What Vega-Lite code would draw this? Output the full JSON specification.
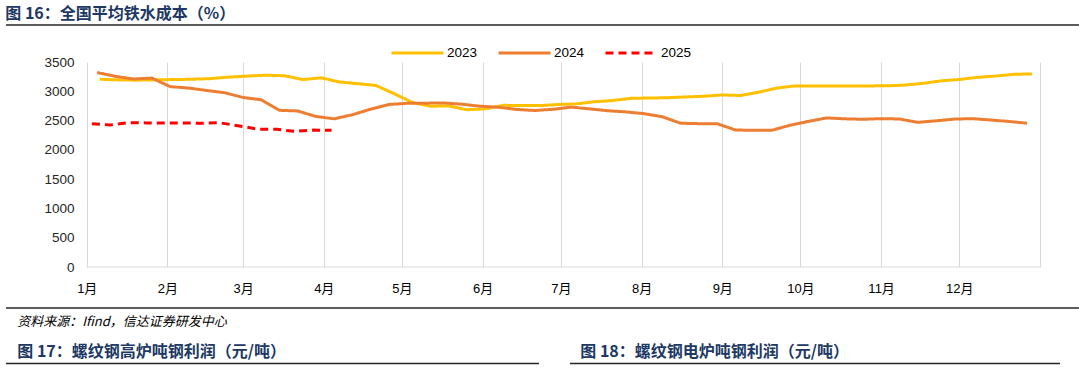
{
  "$schema": "https://vega.github.io/schema/vega-lite/v6.json",
  "padding": {"left": 5, "top": 6, "right": 0, "bottom": 0},
  "background": "#ffffff",
  "config": {
    "view": {"stroke": null},
    "font": "Liberation Sans"
  },
  "resolve": {"legend": {"color": "independent", "strokeDash": "independent"}},
  "datasets": {
    "cost": [
      {"series": "2023", "date": "2023-01-06", "value": 3205},
      {"series": "2023", "date": "2023-01-13", "value": 3195},
      {"series": "2023", "date": "2023-01-20", "value": 3190},
      {"series": "2023", "date": "2023-01-27", "value": 3195},
      {"series": "2023", "date": "2023-02-03", "value": 3200},
      {"series": "2023", "date": "2023-02-10", "value": 3205},
      {"series": "2023", "date": "2023-02-17", "value": 3215},
      {"series": "2023", "date": "2023-02-24", "value": 3240},
      {"series": "2023", "date": "2023-03-03", "value": 3260},
      {"series": "2023", "date": "2023-03-10", "value": 3275},
      {"series": "2023", "date": "2023-03-17", "value": 3265},
      {"series": "2023", "date": "2023-03-24", "value": 3200},
      {"series": "2023", "date": "2023-03-31", "value": 3230},
      {"series": "2023", "date": "2023-04-07", "value": 3160},
      {"series": "2023", "date": "2023-04-14", "value": 3130},
      {"series": "2023", "date": "2023-04-21", "value": 3100},
      {"series": "2023", "date": "2023-04-28", "value": 2960},
      {"series": "2023", "date": "2023-05-05", "value": 2810},
      {"series": "2023", "date": "2023-05-12", "value": 2745},
      {"series": "2023", "date": "2023-05-19", "value": 2750},
      {"series": "2023", "date": "2023-05-26", "value": 2685},
      {"series": "2023", "date": "2023-06-02", "value": 2700},
      {"series": "2023", "date": "2023-06-09", "value": 2760},
      {"series": "2023", "date": "2023-06-16", "value": 2758},
      {"series": "2023", "date": "2023-06-23", "value": 2755},
      {"series": "2023", "date": "2023-06-30", "value": 2775},
      {"series": "2023", "date": "2023-07-07", "value": 2785},
      {"series": "2023", "date": "2023-07-14", "value": 2822},
      {"series": "2023", "date": "2023-07-21", "value": 2842},
      {"series": "2023", "date": "2023-07-28", "value": 2880},
      {"series": "2023", "date": "2023-08-04", "value": 2885},
      {"series": "2023", "date": "2023-08-11", "value": 2890},
      {"series": "2023", "date": "2023-08-18", "value": 2903},
      {"series": "2023", "date": "2023-08-25", "value": 2915},
      {"series": "2023", "date": "2023-09-01", "value": 2938},
      {"series": "2023", "date": "2023-09-08", "value": 2927},
      {"series": "2023", "date": "2023-09-15", "value": 2985},
      {"series": "2023", "date": "2023-09-22", "value": 3055},
      {"series": "2023", "date": "2023-09-29", "value": 3092},
      {"series": "2023", "date": "2023-10-06", "value": 3092},
      {"series": "2023", "date": "2023-10-13", "value": 3092},
      {"series": "2023", "date": "2023-10-20", "value": 3092},
      {"series": "2023", "date": "2023-10-27", "value": 3092},
      {"series": "2023", "date": "2023-11-03", "value": 3093},
      {"series": "2023", "date": "2023-11-10", "value": 3105},
      {"series": "2023", "date": "2023-11-17", "value": 3135},
      {"series": "2023", "date": "2023-11-24", "value": 3178},
      {"series": "2023", "date": "2023-12-01", "value": 3202},
      {"series": "2023", "date": "2023-12-08", "value": 3238},
      {"series": "2023", "date": "2023-12-15", "value": 3260},
      {"series": "2023", "date": "2023-12-22", "value": 3290},
      {"series": "2023", "date": "2023-12-29", "value": 3297},
      {"series": "2024", "date": "2024-01-05", "value": 3320},
      {"series": "2024", "date": "2024-01-12", "value": 3255},
      {"series": "2024", "date": "2024-01-19", "value": 3210},
      {"series": "2024", "date": "2024-01-26", "value": 3225},
      {"series": "2024", "date": "2024-02-02", "value": 3080},
      {"series": "2024", "date": "2024-02-09", "value": 3055},
      {"series": "2024", "date": "2024-02-16", "value": 3015},
      {"series": "2024", "date": "2024-02-23", "value": 2975},
      {"series": "2024", "date": "2024-03-01", "value": 2895},
      {"series": "2024", "date": "2024-03-08", "value": 2855},
      {"series": "2024", "date": "2024-03-15", "value": 2675},
      {"series": "2024", "date": "2024-03-22", "value": 2664},
      {"series": "2024", "date": "2024-03-29", "value": 2570},
      {"series": "2024", "date": "2024-04-05", "value": 2530},
      {"series": "2024", "date": "2024-04-12", "value": 2600},
      {"series": "2024", "date": "2024-04-19", "value": 2695},
      {"series": "2024", "date": "2024-04-26", "value": 2775},
      {"series": "2024", "date": "2024-05-03", "value": 2795},
      {"series": "2024", "date": "2024-05-10", "value": 2797},
      {"series": "2024", "date": "2024-05-17", "value": 2801},
      {"series": "2024", "date": "2024-05-24", "value": 2780},
      {"series": "2024", "date": "2024-05-31", "value": 2745},
      {"series": "2024", "date": "2024-06-07", "value": 2728},
      {"series": "2024", "date": "2024-06-14", "value": 2690},
      {"series": "2024", "date": "2024-06-21", "value": 2672},
      {"series": "2024", "date": "2024-06-28", "value": 2692},
      {"series": "2024", "date": "2024-07-05", "value": 2730},
      {"series": "2024", "date": "2024-07-12", "value": 2700},
      {"series": "2024", "date": "2024-07-19", "value": 2668},
      {"series": "2024", "date": "2024-07-26", "value": 2648},
      {"series": "2024", "date": "2024-08-02", "value": 2618},
      {"series": "2024", "date": "2024-08-09", "value": 2565},
      {"series": "2024", "date": "2024-08-16", "value": 2455},
      {"series": "2024", "date": "2024-08-23", "value": 2447},
      {"series": "2024", "date": "2024-08-30", "value": 2447},
      {"series": "2024", "date": "2024-09-06", "value": 2340},
      {"series": "2024", "date": "2024-09-13", "value": 2333},
      {"series": "2024", "date": "2024-09-20", "value": 2333},
      {"series": "2024", "date": "2024-09-27", "value": 2420},
      {"series": "2024", "date": "2024-10-04", "value": 2485},
      {"series": "2024", "date": "2024-10-11", "value": 2545},
      {"series": "2024", "date": "2024-10-18", "value": 2530},
      {"series": "2024", "date": "2024-10-25", "value": 2522},
      {"series": "2024", "date": "2024-11-01", "value": 2533},
      {"series": "2024", "date": "2024-11-08", "value": 2527},
      {"series": "2024", "date": "2024-11-15", "value": 2470},
      {"series": "2024", "date": "2024-11-22", "value": 2495},
      {"series": "2024", "date": "2024-11-29", "value": 2525},
      {"series": "2024", "date": "2024-12-06", "value": 2533},
      {"series": "2024", "date": "2024-12-13", "value": 2510},
      {"series": "2024", "date": "2024-12-20", "value": 2485},
      {"series": "2024", "date": "2024-12-27", "value": 2455},
      {"series": "2025", "date": "2025-01-03", "value": 2445},
      {"series": "2025", "date": "2025-01-10", "value": 2425},
      {"series": "2025", "date": "2025-01-17", "value": 2465},
      {"series": "2025", "date": "2025-01-24", "value": 2460},
      {"series": "2025", "date": "2025-01-31", "value": 2458},
      {"series": "2025", "date": "2025-02-07", "value": 2458},
      {"series": "2025", "date": "2025-02-14", "value": 2455},
      {"series": "2025", "date": "2025-02-21", "value": 2462},
      {"series": "2025", "date": "2025-02-28", "value": 2413},
      {"series": "2025", "date": "2025-03-07", "value": 2352},
      {"series": "2025", "date": "2025-03-14", "value": 2350},
      {"series": "2025", "date": "2025-03-21", "value": 2315},
      {"series": "2025", "date": "2025-03-28", "value": 2338},
      {"series": "2025", "date": "2025-04-04", "value": 2333}
    ],
    "span": [{"from": 0, "to": 1}],
    "baseline": [{"start": "2012-01-01", "end": "2013-01-01", "base": 0}]
  },
  "columns": 1,
  "align": "none",
  "spacing": 20,
  "concat": [
    {
      "width": 1074,
      "height": 1,
      "title": {
        "text": "图 16：全国平均铁水成本（%）",
        "anchor": "start",
        "font": "Noto Sans CJK SC",
        "fontSize": 16,
        "fontWeight": "bold",
        "color": "#203864",
        "offset": 2,
        "dx": 0
      },
      "data": {"name": "span"},
      "mark": {"type": "rule", "color": "#262626", "strokeWidth": 1.5},
      "encoding": {
        "x": {"field": "from", "type": "quantitative", "scale": {"domain": [0, 1]}, "axis": null},
        "x2": {"field": "to"},
        "y": {"datum": 0, "type": "quantitative", "scale": {"domain": [0, 1]}, "axis": null}
      }
    },
    {
      "columns": 1,
      "align": "none",
      "spacing": 12,
      "concat": [
        {
          "width": 1034,
          "height": 205,
          "layer": [
            {
              "data": {"name": "baseline"},
              "mark": {"type": "rule", "color": "#d9d9d9", "strokeWidth": 1},
              "encoding": {
                "x": {
                  "field": "start",
                  "type": "temporal",
                  "scale": {
                    "type": "utc",
                    "domain": [
                      {"year": 2011, "month": 12, "date": 1, "utc": true},
                      {"year": 2013, "month": 1, "date": 1, "utc": true}
                    ]
                  },
                  "axis": {
                    "title": null,
                    "values": [
                      {"year": 2012, "month": 1, "date": 1, "utc": true},
                      {"year": 2012, "month": 2, "date": 1, "utc": true},
                      {"year": 2012, "month": 3, "date": 1, "utc": true},
                      {"year": 2012, "month": 4, "date": 1, "utc": true},
                      {"year": 2012, "month": 5, "date": 1, "utc": true},
                      {"year": 2012, "month": 6, "date": 1, "utc": true},
                      {"year": 2012, "month": 7, "date": 1, "utc": true},
                      {"year": 2012, "month": 8, "date": 1, "utc": true},
                      {"year": 2012, "month": 9, "date": 1, "utc": true},
                      {"year": 2012, "month": 10, "date": 1, "utc": true},
                      {"year": 2012, "month": 11, "date": 1, "utc": true},
                      {"year": 2012, "month": 12, "date": 1, "utc": true},
                      {"year": 2013, "month": 1, "date": 1, "utc": true}
                    ],
                    "labelExpr": "utcyear(datum.value) > 2012 ? '' : (utcmonth(datum.value) + 1) + '月'",
                    "labelFont": "Liberation Sans, Noto Sans CJK SC",
                    "labelFontSize": 13,
                    "labelColor": "#000000",
                    "labelPadding": 15,
                    "labelFlush": false,
                    "labelOverlap": false,
                    "ticks": false,
                    "grid": true,
                    "gridColor": "#d9d9d9",
                    "gridWidth": 1,
                    "domain": false
                  }
                },
                "x2": {"field": "end"},
                "y": {
                  "field": "base",
                  "type": "quantitative",
                  "scale": {"domain": [0, 3500], "nice": false},
                  "axis": {
                    "title": null,
                    "values": [0, 500, 1000, 1500, 2000, 2500, 3000, 3500],
                    "format": "d",
                    "labelFont": "Liberation Sans",
                    "labelFontSize": 13.5,
                    "labelColor": "#262626",
                    "labelPadding": 13,
                    "ticks": false,
                    "domain": false,
                    "grid": false,
                    "offset": -81
                  }
                }
              }
            },
            {
              "data": {"name": "cost"},
              "mark": {"type": "line", "strokeWidth": 3},
              "encoding": {
                "x": {
                  "field": "date",
                  "type": "temporal",
                  "timeUnit": "utcmonthdate",
                  "scale": {
                    "type": "utc",
                    "domain": [
                      {"year": 2011, "month": 12, "date": 1, "utc": true},
                      {"year": 2013, "month": 1, "date": 1, "utc": true}
                    ]
                  },
                  "axis": {
                    "title": null,
                    "values": [
                      {"year": 2012, "month": 1, "date": 1, "utc": true},
                      {"year": 2012, "month": 2, "date": 1, "utc": true},
                      {"year": 2012, "month": 3, "date": 1, "utc": true},
                      {"year": 2012, "month": 4, "date": 1, "utc": true},
                      {"year": 2012, "month": 5, "date": 1, "utc": true},
                      {"year": 2012, "month": 6, "date": 1, "utc": true},
                      {"year": 2012, "month": 7, "date": 1, "utc": true},
                      {"year": 2012, "month": 8, "date": 1, "utc": true},
                      {"year": 2012, "month": 9, "date": 1, "utc": true},
                      {"year": 2012, "month": 10, "date": 1, "utc": true},
                      {"year": 2012, "month": 11, "date": 1, "utc": true},
                      {"year": 2012, "month": 12, "date": 1, "utc": true},
                      {"year": 2013, "month": 1, "date": 1, "utc": true}
                    ],
                    "labelExpr": "utcyear(datum.value) > 2012 ? '' : (utcmonth(datum.value) + 1) + '月'",
                    "labelFont": "Liberation Sans, Noto Sans CJK SC",
                    "labelFontSize": 13,
                    "labelColor": "#000000",
                    "labelPadding": 15,
                    "labelFlush": false,
                    "labelOverlap": false,
                    "ticks": false,
                    "grid": true,
                    "gridColor": "#d9d9d9",
                    "gridWidth": 1,
                    "domain": false
                  }
                },
                "y": {
                  "field": "value",
                  "type": "quantitative",
                  "scale": {"domain": [0, 3500], "nice": false},
                  "axis": {
                    "title": null,
                    "values": [0, 500, 1000, 1500, 2000, 2500, 3000, 3500],
                    "format": "d",
                    "labelFont": "Liberation Sans",
                    "labelFontSize": 13.5,
                    "labelColor": "#262626",
                    "labelPadding": 13,
                    "ticks": false,
                    "domain": false,
                    "grid": false,
                    "offset": -81
                  }
                },
                "color": {
                  "field": "series",
                  "type": "nominal",
                  "scale": {"domain": ["2023", "2024", "2025"], "range": ["#FFC000", "#ED7D31", "#FF0000"]},
                  "legend": {
                    "title": null,
                    "orient": "none",
                    "legendX": 384,
                    "legendY": -16,
                    "direction": "horizontal",
                    "symbolType": "stroke",
                    "symbolSize": 2700,
                    "symbolStrokeWidth": 3,
                    "clipHeight": 14,
                    "labelOffset": 2,
                    "columnPadding": 19,
                    "labelFont": "Liberation Sans",
                    "labelFontSize": 13.5,
                    "labelColor": "#000000"
                  }
                },
                "strokeDash": {
                  "field": "series",
                  "type": "nominal",
                  "scale": {"domain": ["2023", "2024", "2025"], "range": [[1, 0], [1, 0], [8, 5]]},
                  "legend": {
                    "title": null,
                    "orient": "none",
                    "legendX": 384,
                    "legendY": -16,
                    "direction": "horizontal",
                    "symbolType": "stroke",
                    "symbolSize": 2700,
                    "symbolStrokeWidth": 3,
                    "clipHeight": 14,
                    "labelOffset": 2,
                    "columnPadding": 19,
                    "labelFont": "Liberation Sans",
                    "labelFontSize": 13.5,
                    "labelColor": "#000000"
                  }
                }
              }
            }
          ]
        },
        {
          "columns": 1,
          "align": "none",
          "spacing": 14.5,
          "concat": [
            {
              "width": 1074,
              "height": 1,
              "title": {
                "text": "资料来源：Ifind，信达证券研发中心",
                "orient": "bottom",
                "anchor": "start",
                "font": "Noto Sans CJK SC",
                "fontSize": 13,
                "fontStyle": "italic",
                "fontWeight": "normal",
                "color": "#000000",
                "offset": 7,
                "dx": 12
              },
              "data": {"name": "span"},
              "mark": {"type": "rule", "color": "#262626", "strokeWidth": 1.5},
              "encoding": {
                "x": {"field": "from", "type": "quantitative", "scale": {"domain": [0, 1]}, "axis": null},
                "x2": {"field": "to"},
                "y": {"datum": 1, "type": "quantitative", "scale": {"domain": [0, 1]}, "axis": null}
              }
            },
            {
              "spacing": 29,
              "hconcat": [
                {
                  "width": 533,
                  "height": 1,
                  "title": {
                    "text": "图 17：螺纹钢高炉吨钢利润（元/吨）",
                    "anchor": "start",
                    "font": "Noto Sans CJK SC",
                    "fontSize": 16,
                    "fontWeight": "bold",
                    "color": "#203864",
                    "offset": 3,
                    "dx": 12
                  },
                  "data": {"name": "span"},
                  "mark": {"type": "rule", "color": "#262626", "strokeWidth": 1.5},
                  "encoding": {
                    "x": {"field": "from", "type": "quantitative", "scale": {"domain": [0, 1]}, "axis": null},
                    "x2": {"field": "to"},
                    "y": {"datum": 0, "type": "quantitative", "scale": {"domain": [0, 1]}, "axis": null}
                  }
                },
                {
                  "width": 490,
                  "height": 1,
                  "title": {
                    "text": "图 18：螺纹钢电炉吨钢利润（元/吨）",
                    "anchor": "start",
                    "font": "Noto Sans CJK SC",
                    "fontSize": 16,
                    "fontWeight": "bold",
                    "color": "#203864",
                    "offset": 3,
                    "dx": 11
                  },
                  "data": {"name": "span"},
                  "mark": {"type": "rule", "color": "#262626", "strokeWidth": 1.5},
                  "encoding": {
                    "x": {"field": "from", "type": "quantitative", "scale": {"domain": [0, 1]}, "axis": null},
                    "x2": {"field": "to"},
                    "y": {"datum": 0, "type": "quantitative", "scale": {"domain": [0, 1]}, "axis": null}
                  }
                }
              ]
            }
          ]
        }
      ]
    }
  ]
}
